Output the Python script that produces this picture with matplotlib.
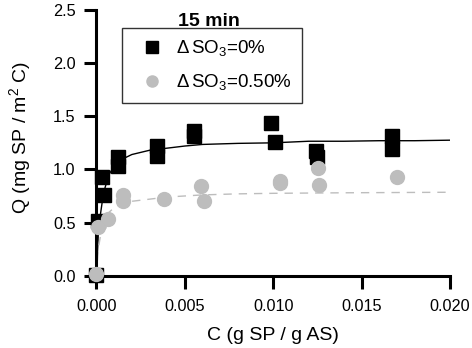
import matplotlib
matplotlib.use("Agg")
import matplotlib.pyplot as plt
from matplotlib.lines import Line2D

plt.rcParams['font.family'] = ['Liberation Sans', 'DejaVu Sans']
plt.rcParams['mathtext.fontset'] = 'custom'
plt.rcParams['mathtext.rm'] = 'Liberation Sans'
plt.rcParams['mathtext.it'] = 'Liberation Sans:italic'
plt.rcParams['mathtext.bf'] = 'Liberation Sans:bold'

# Data: dSO3 = 0 % (black squares)
c_0 = [0.0, 0.00007, 0.0003, 0.00042, 0.0012, 0.0012, 0.0034, 0.0034,
       0.0055, 0.0055, 0.0099, 0.0101, 0.0124, 0.0125, 0.0167, 0.0167]
q_0 = [0.01, 0.51, 0.93, 0.76, 1.12, 1.03, 1.22, 1.13,
       1.36, 1.31, 1.44, 1.26, 1.17, 1.12, 1.31, 1.19]

# Data: dSO3 = 0.50 % (grey circles)
c_05 = [0.0, 0.0001, 0.00067, 0.0015, 0.0015, 0.0038, 0.0059, 0.0061,
        0.0104, 0.0104, 0.01253, 0.0126, 0.017]
q_05 = [0.02, 0.46, 0.53, 0.76, 0.70, 0.72, 0.84, 0.70,
        0.89, 0.87, 1.01, 0.85, 0.93]

# Fitted curves
fit_c_0 = [0.0, 0.00005, 0.0001, 0.0002, 0.0004, 0.0007, 0.001, 0.0015, 0.002,
           0.003, 0.004, 0.005, 0.006, 0.008, 0.010, 0.012, 0.014, 0.016, 0.018, 0.020]
fit_q_0 = [0.0, 0.2, 0.38, 0.55, 0.78, 0.95, 1.03, 1.10, 1.14,
           1.18, 1.20, 1.22, 1.235, 1.245, 1.25, 1.265, 1.265, 1.27, 1.27, 1.275]

fit_c_05 = [0.0, 0.0001, 0.0003, 0.0006, 0.001, 0.0015, 0.002, 0.003, 0.004,
            0.006, 0.008, 0.010, 0.014, 0.020]
fit_q_05 = [0.0, 0.25, 0.45, 0.58, 0.64, 0.68, 0.70, 0.72, 0.74,
            0.76, 0.77, 0.775, 0.78, 0.785]

x_ticks = [0.000, 0.005, 0.010, 0.015, 0.020]
x_ticklabels = ['0.000', '0.005', '0.010', '0.015', '0.020']
y_ticks = [0.0, 0.5, 1.0, 1.5, 2.0, 2.5]
y_ticklabels = ['0.0', '0.5', '1.0', '1.5', '2.0', '2.5']

grey = '#bdbdbd'

fig = plt.figure(figsize=(4.72, 3.48), dpi=100)
ax = fig.add_axes([0.2044, 0.2078, 0.7490, 0.7635])

ax.plot(fit_c_0, fit_q_0, color='black', lw=1.0, zorder=2)
ax.plot(fit_c_05, fit_q_05, color=grey, lw=1.0, dashes=(6, 5), zorder=2)

ax.plot(c_0, q_0, ls='none', marker='s', ms=10, mfc='black', mec='black',
        clip_on=False, zorder=3)
ax.plot(c_05, q_05, ls='none', marker='o', ms=10, mfc=grey, mec=grey,
        clip_on=False, zorder=4)

ax.set_xlim(0, 0.02)
ax.set_ylim(0, 2.5)
ax.set_xticks(x_ticks)
ax.set_xticklabels(x_ticklabels)
ax.set_yticks(y_ticks)
ax.set_yticklabels(y_ticklabels)

for s in ['top', 'right']:
    ax.spines[s].set_visible(False)
for s in ['left', 'bottom']:
    ax.spines[s].set_linewidth(2.2)
ax.tick_params(direction='out', length=9, width=2.2, labelsize=11.7)
ax.tick_params(axis='x', pad=7.5)
ax.tick_params(axis='y', pad=6)

ax.set_xlabel('C (g SP / g AS)', fontsize=14)
ax.xaxis.set_label_coords(0.5, -0.195)
ax.set_ylabel('Q (mg SP / m$^2$ C)', fontsize=14)
ax.yaxis.set_label_coords(-0.179, 0.52)

handles = [
    Line2D([], [], ls='none', marker='s', ms=9, mfc='black', mec='black'),
    Line2D([], [], ls='none', marker='o', ms=8, mfc=grey, mec=grey),
]
labels = ['Δ$\\,$SO$_3$=0%', 'Δ$\\,$SO$_3$=0.50%']
leg = ax.legend(handles, labels, loc='upper left', bbox_to_anchor=(0.072, 0.932),
                fontsize=13.5, frameon=True, fancybox=False, borderpad=0.55,
                handletextpad=0.23, labelspacing=0.75, handlelength=2.1,
                borderaxespad=0)
leg.get_frame().set_edgecolor('black')
leg.get_frame().set_linewidth(1.0)

ax.text(0.318, 0.957, '15 min', transform=ax.transAxes, fontsize=14,
        fontweight='bold', ha='center', va='center')

fig.savefig('out.png', dpi=100)
